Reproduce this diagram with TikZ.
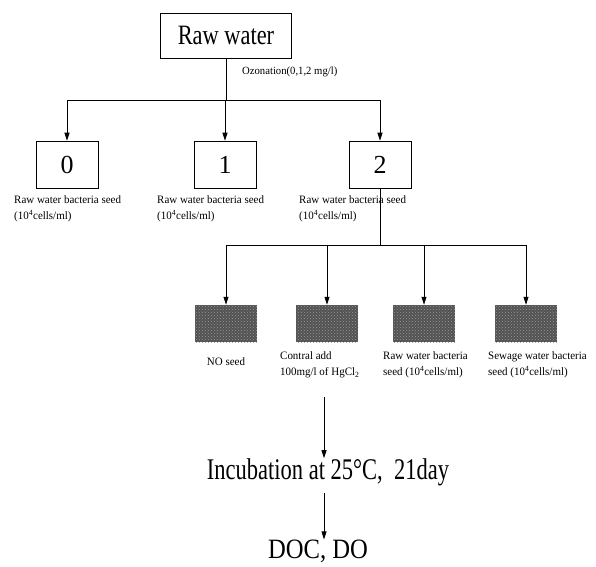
\documentclass[tikz,border=0pt]{standalone}
\usepackage{fontspec}
\setmainfont{Liberation Serif}
\newfontfamily\condraw[FakeStretch=0.80]{Liberation Serif}
\newfontfamily\condinc[FakeStretch=0.75]{Liberation Serif}
\newfontfamily\conddoc[FakeStretch=0.88]{Liberation Serif}
\newfontfamily\condsm[FakeStretch=0.97]{Liberation Serif}
\usetikzlibrary{arrows.meta,patterns}
\begin{document}
\begin{tikzpicture}[x=1pt,y=-1pt,
  line/.style={line width=0.8pt},
  arr/.style={line width=0.8pt,-{Triangle[length=8pt,width=5pt]}},
  numbox/.style={draw,line width=0.6pt,minimum width=62pt,minimum height=47pt,inner sep=0pt,font=\fontsize{26}{28}\selectfont},
  graybox/.style={minimum width=62pt,minimum height=37pt,inner sep=0pt,fill=black!68,postaction={pattern=crosshatch dots,pattern color=black!40}},
  small/.style={font=\condsm\fontsize{11.3}{16.5}\selectfont,inner sep=0pt,align=left},
  big/.style={font=\condinc\fontsize{30}{32}\selectfont,inner sep=0pt}]
\useasboundingbox (0,0) rectangle (596,566);
% top box
\node[draw,line width=0.6pt,minimum width=131pt,minimum height=45pt,inner sep=0pt,
      font=\condraw\fontsize{28}{30}\selectfont] (raw) at (226,35.5) {Raw water};
\node[small,anchor=west,font=\condsm\fontsize{11}{12}\selectfont] (ozo) at (242,72) {Ozonation(0,1,2 mg/l)};
\coordinate (s1) at (226,100);
% number boxes
\node[numbox] (b0) at (67,164.5) {0};
\node[numbox] (b1) at (225,164.5) {1};
\node[numbox] (b2) at (380,164.5) {2};
\draw[line] (raw.south) -- (s1);
\draw[line] (b0.north |- s1) -- (b2.north |- s1);
\draw[arr] (b0.north |- s1) -- (b0.north);
\draw[arr] (b1.north |- s1) -- (b1.north);
\draw[arr] (b2.north |- s1) -- (b2.north);
% labels under number boxes
\node[small,anchor=north west] (l0) at (14,195) {Raw water bacteria seed\\(10\textsuperscript{4}cells/ml)};
\node[small,anchor=north west] (l1) at (157,195) {Raw water bacteria seed\\(10\textsuperscript{4}cells/ml)};
\node[small,anchor=north west] (l2) at (299,195) {Raw water bacteria seed\\(10\textsuperscript{4}cells/ml)};
% second split
\coordinate (s2) at (380,245);
\node[graybox] (g1) at (226,323.5) {};
\node[graybox] (g2) at (327,323.5) {};
\node[graybox] (g3) at (424,323.5) {};
\node[graybox] (g4) at (526,323.5) {};
\draw[line] (b2.south) -- (s2);
\draw[line] (g1.north |- s2) -- (g4.north |- s2);
\draw[arr] (g1.north |- s2) -- (g1.north);
\draw[arr] (g2.north |- s2) -- (g2.north);
\draw[arr] (g3.north |- s2) -- (g3.north);
\draw[arr] (g4.north |- s2) -- (g4.north);
% labels under gray boxes
\node[small,anchor=north] (n1) at (226,357) {NO seed};
\node[small,anchor=north west] (n2) at (280,351) {Contral add\\100mg/l of HgCl\textsubscript{2}};
\node[small,anchor=north west] (n3) at (383,351) {Raw water bacteria\\seed (10\textsuperscript{4}cells/ml)};
\node[small,anchor=north west] (n4) at (488,351) {Sewage water bacteria\\seed (10\textsuperscript{4}cells/ml)};
% bottom chain
\coordinate (t1) at (324,397);
\node[big] (inc) at (328,472) {Incubation at 25°C,\ \ 21day};
\node[big,font=\conddoc\fontsize{28}{30}\selectfont] (doc) at (318,551) {DOC,\ DO};
\coordinate (t2) at (324,493);
\draw[arr] (t1) -- (t1 |- inc.north);
\draw[arr] (t2) -- (t2 |- doc.north);
\end{tikzpicture}
\end{document}
